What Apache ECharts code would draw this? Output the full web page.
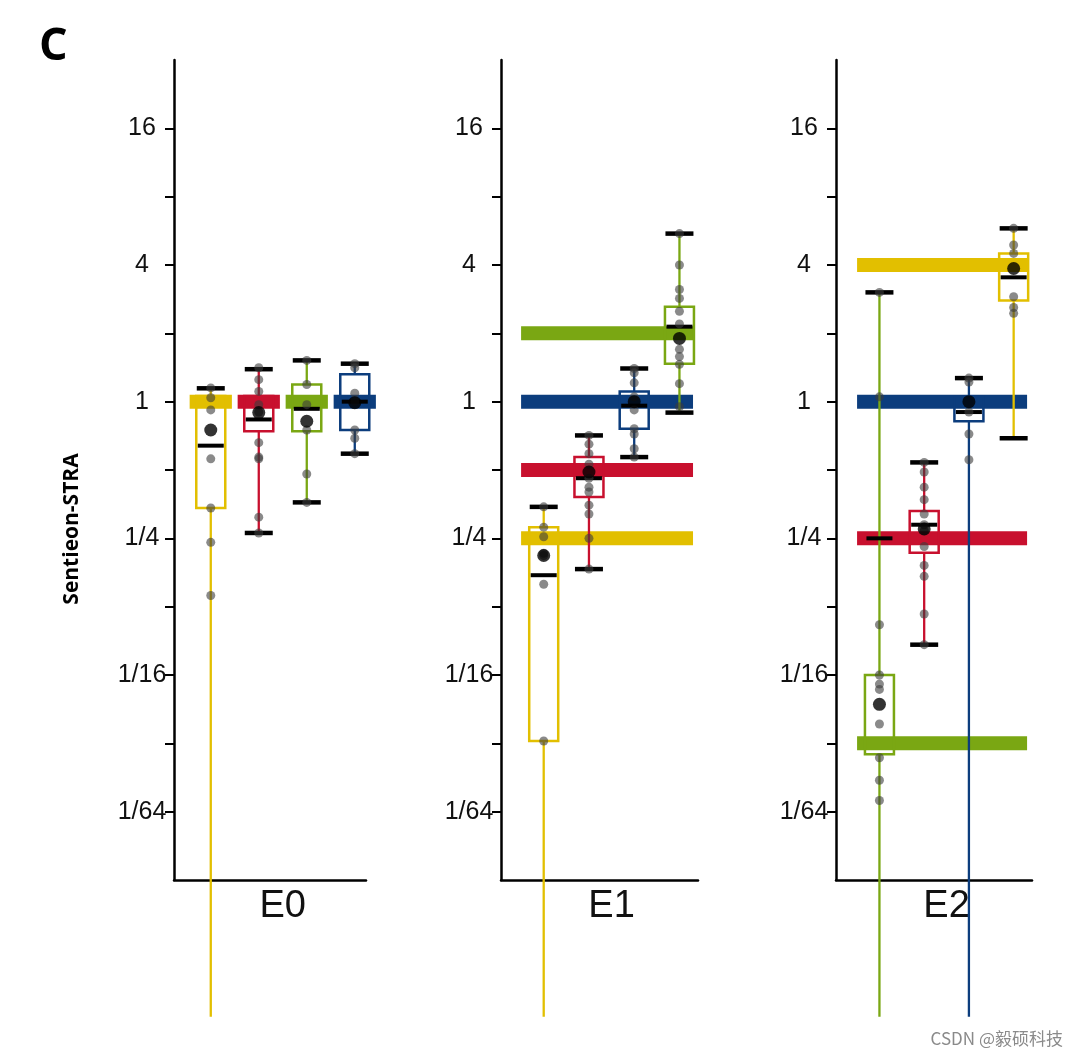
<!DOCTYPE html>
<html><head><meta charset="utf-8">
<script src="https://cdn.jsdelivr.net/npm/echarts@6.0.0/dist/echarts.min.js"></script>
<style>html,body{margin:0;padding:0;background:#fff}#c{width:1080px;height:1057px}</style>
</head><body><div id="c"></div>
<script>
// ---------------- DATA ----------------
const panelNames = ['E0', 'E1', 'E2'];
const groupColors = { Y: '#E2BF00', R: '#C8102E', G: '#7AA713', B: '#0C3D7D' };
// left-to-right order of the groups inside each panel
const groupOrder = [['Y', 'R', 'G', 'B'], ['Y', 'R', 'B', 'G'], ['G', 'R', 'B', 'Y']];
const yTickLabels = ['1/64', '1/16', '1/4', '1', '4', '16'];

// box stats per group: [whisker low, Q1, median, Q3, whisker high]   (0 = off scale)
const boxE0 = [[0, 0.34, 0.64, 1.06, 1.145], [0.264, 0.74, 0.835, 1.06, 1.39], [0.36, 0.74, 0.93, 1.19, 1.52], [0.59, 0.75, 1.0, 1.32, 1.47]];
const boxE1 = [[0, 0.032, 0.172, 0.28, 0.344], [0.183, 0.38, 0.46, 0.57, 0.71], [0.57, 0.76, 0.96, 1.11, 1.40], [0.895, 1.47, 2.14, 2.62, 5.5]];
const boxE2 = [[0, 0.028, 0.25, 0.0625, 3.03], [0.085, 0.216, 0.287, 0.33, 0.54], [0, 0.82, 0.90, 1.05, 1.27], [0.69, 2.79, 3.53, 4.5, 5.8]];

const meanE0 = [0.75, 0.895, 0.82, 0.99];
const meanE1 = [0.21, 0.49, 1.0, 1.9];
const meanE2 = [0.0464, 0.275, 1.0, 3.86];

const pointsE0 = [
  [1.15, 1.04, 0.92, 0.56, 0.34, 0.24, 0.14],
  [1.41, 1.25, 1.11, 0.97, 0.9, 0.66, 0.57, 0.56, 0.31, 0.264],
  [1.52, 1.19, 0.97, 0.75, 0.48, 0.36],
  [1.47, 1.41, 1.09, 1.0, 0.75, 0.69, 0.59]
];
const pointsE1 = [
  [0.344, 0.28, 0.254, 0.215, 0.21, 0.157, 0.032],
  [0.71, 0.65, 0.59, 0.53, 0.46, 0.42, 0.40, 0.35, 0.32, 0.25, 0.183],
  [1.40, 1.34, 1.21, 1.05, 0.92, 0.76, 0.72, 0.62, 0.57],
  [5.5, 4.0, 3.12, 2.85, 2.5, 2.2, 1.7, 1.58, 1.46, 1.2, 0.95]
];
const pointsE2 = [
  [3.03, 1.05, 0.104, 0.0625, 0.057, 0.054, 0.038, 0.027, 0.0215, 0.0175],
  [0.54, 0.49, 0.42, 0.37, 0.32, 0.287, 0.27, 0.23, 0.19, 0.17, 0.116, 0.085],
  [1.27, 1.22, 0.90, 0.72, 0.555],
  [5.8, 4.9, 4.5, 2.9, 2.6, 2.45]
];

// expected ratio per group (thick horizontal bands)
const expectedE0 = [1, 1, 1, 1];
const expectedE1 = [0.25, 0.5, 1, 2];
const expectedE2 = [1 / 32, 0.25, 1, 4];

// ---------------- BUILD ----------------
const boxes = [boxE0, boxE1, boxE2];
const means = [meanE0, meanE1, meanE2];
const points = [pointsE0, pointsE1, pointsE2];
const expected = [expectedE0, expectedE1, expectedE2];

const ZERO_FLOOR = -9; // log2 position used to draw "0" (off the axis)
const lg = v => v > 0 ? Math.log2(v) : ZERO_FLOOR;

const grids = [
  { left: 174, top: 60, width: 192, height: 820 },
  { left: 501, top: 60, width: 197, height: 820 },
  { left: 836, top: 60, width: 196, height: 820 }
];
const xRanges = [[0.234, 4.234], [0.056, 4.41], [0.029, 4.41]];
const fullBand = [0.5, 4.3];

const FONT = '"Liberation Sans", Arial, sans-serif';

const xAxes = [], yAxes = [], series = [];
panelNames.forEach((name, p) => {
  xAxes.push({
    type: 'value', gridIndex: p, min: xRanges[p][0], max: xRanges[p][1],
    axisLine: { show: true, onZero: false, lineStyle: { color: '#000', width: 2.5 } },
    axisTick: { show: false }, splitLine: { show: false },
    axisLabel: { customValues: [2.5], formatter: () => name, fontSize: 38, fontFamily: FONT, color: '#111', margin: 8 }
  });
  yAxes.push({
    type: 'value', gridIndex: p, min: -7, max: 5, interval: 1,
    axisLine: { show: true, onZero: false, lineStyle: { color: '#000', width: 2.5 } },
    axisTick: { show: true, customValues: [-6, -5, -4, -3, -2, -1, 0, 1, 2, 3, 4], length: 9, lineStyle: { color: '#000', width: 2 } },
    splitLine: { show: false },
    axisLabel: {
      customValues: [-6, -4, -2, 0, 2, 4], formatter: v => yTickLabels[Math.round((v + 6) / 2)],
      fontSize: 25, fontFamily: FONT, color: '#111', margin: 32, align: 'center'
    }
  });

  const order = groupOrder[p];
  const bandData = expected[p].map((e, i) => {
    const pos = i + 1;
    const ext = p === 0 ? [pos - 0.44, pos + 0.44] : fullBand;
    return [ext[0], ext[1], lg(e), i];
  });
  series.push({
    type: 'custom', xAxisIndex: p, yAxisIndex: p, z: 1, clip: false,
    data: bandData,
    renderItem: (params, api) => {
      const a = api.coord([api.value(0), api.value(2)]);
      const b = api.coord([api.value(1), api.value(2)]);
      return { type: 'rect', shape: { x: a[0], y: a[1] - 7, width: b[0] - a[0], height: 14 },
        style: { fill: groupColors[order[api.value(3)]] } };
    }
  });
  series.push({
    type: 'custom', xAxisIndex: p, yAxisIndex: p, z: 2, clip: false,
    data: boxes[p].map((b, i) => [i + 1, lg(b[0]), lg(b[1]), lg(b[2]), lg(b[3]), lg(b[4]), b[0] > 0 ? 1 : 0, i]),
    renderItem: (params, api) => {
      const x = api.coord([api.value(0), 0])[0];
      const Y = k => api.coord([api.value(0), api.value(k)])[1];
      const yLo = Y(1), yQ1 = Y(2), yMed = Y(3), yQ3 = Y(4), yHi = Y(5);
      const col = groupColors[order[api.value(7)]];
      const bw = 29, cw = 28, mw = 26;
      const boxTop = Math.min(yQ1, yQ3), boxBot = Math.max(yQ1, yQ3);
      const ch = [
        { type: 'line', shape: { x1: x, y1: yLo, x2: x, y2: boxBot }, style: { stroke: col, lineWidth: 2.3 } },
        { type: 'line', shape: { x1: x, y1: boxTop, x2: x, y2: yHi }, style: { stroke: col, lineWidth: 2.3 } },
        { type: 'rect', shape: { x: x - bw / 2, y: boxTop, width: bw, height: boxBot - boxTop }, style: { fill: 'none', stroke: col, lineWidth: 2.5 } },
        { type: 'line', shape: { x1: x - mw / 2, y1: yMed, x2: x + mw / 2, y2: yMed }, style: { stroke: '#000', lineWidth: 4 } },
        { type: 'line', shape: { x1: x - cw / 2, y1: yHi, x2: x + cw / 2, y2: yHi }, style: { stroke: '#000', lineWidth: 4.5 } }
      ];
      if (api.value(6)) ch.push({ type: 'line', shape: { x1: x - cw / 2, y1: yLo, x2: x + cw / 2, y2: yLo }, style: { stroke: '#000', lineWidth: 4.5 } });
      return { type: 'group', children: ch };
    }
  });
  const pts = [];
  points[p].forEach((arr, i) => arr.forEach(v => pts.push([i + 1, lg(v)])));
  series.push({
    type: 'scatter', xAxisIndex: p, yAxisIndex: p, z: 4, symbolSize: 9,
    itemStyle: { color: 'rgba(60,60,60,0.75)' }, data: pts, silent: true
  });
  series.push({
    type: 'scatter', xAxisIndex: p, yAxisIndex: p, z: 5, symbolSize: 13,
    itemStyle: { color: '#000' }, data: means[p].map((m, i) => [i + 1, lg(m)]), silent: true
  });
});

const chart = echarts.init(document.getElementById('c'), null, { renderer: 'canvas' });
chart.setOption({
  backgroundColor: '#fff',
  animation: false,
  grid: grids,
  xAxis: xAxes,
  yAxis: yAxes,
  series: series,
  graphic: [
    { type: 'text', x: 39, y: 25, style: { text: 'C', font: 'bold 45px "Open Sans", sans-serif', fill: '#000' } },
    { type: 'text', x: 72, y: 529, rotation: Math.PI / 2,
      style: { text: 'Sentieon-STRA', font: 'bold 21px "Open Sans", sans-serif', fill: '#000', align: 'center', verticalAlign: 'middle' } },
    { type: 'text', x: 1063, y: 1039,
      style: { text: 'CSDN @毅硕科技', font: '17px "Noto Sans CJK SC", sans-serif', fill: '#8a8a8a', align: 'right', verticalAlign: 'middle' } }
  ]
});
</script></body></html>
